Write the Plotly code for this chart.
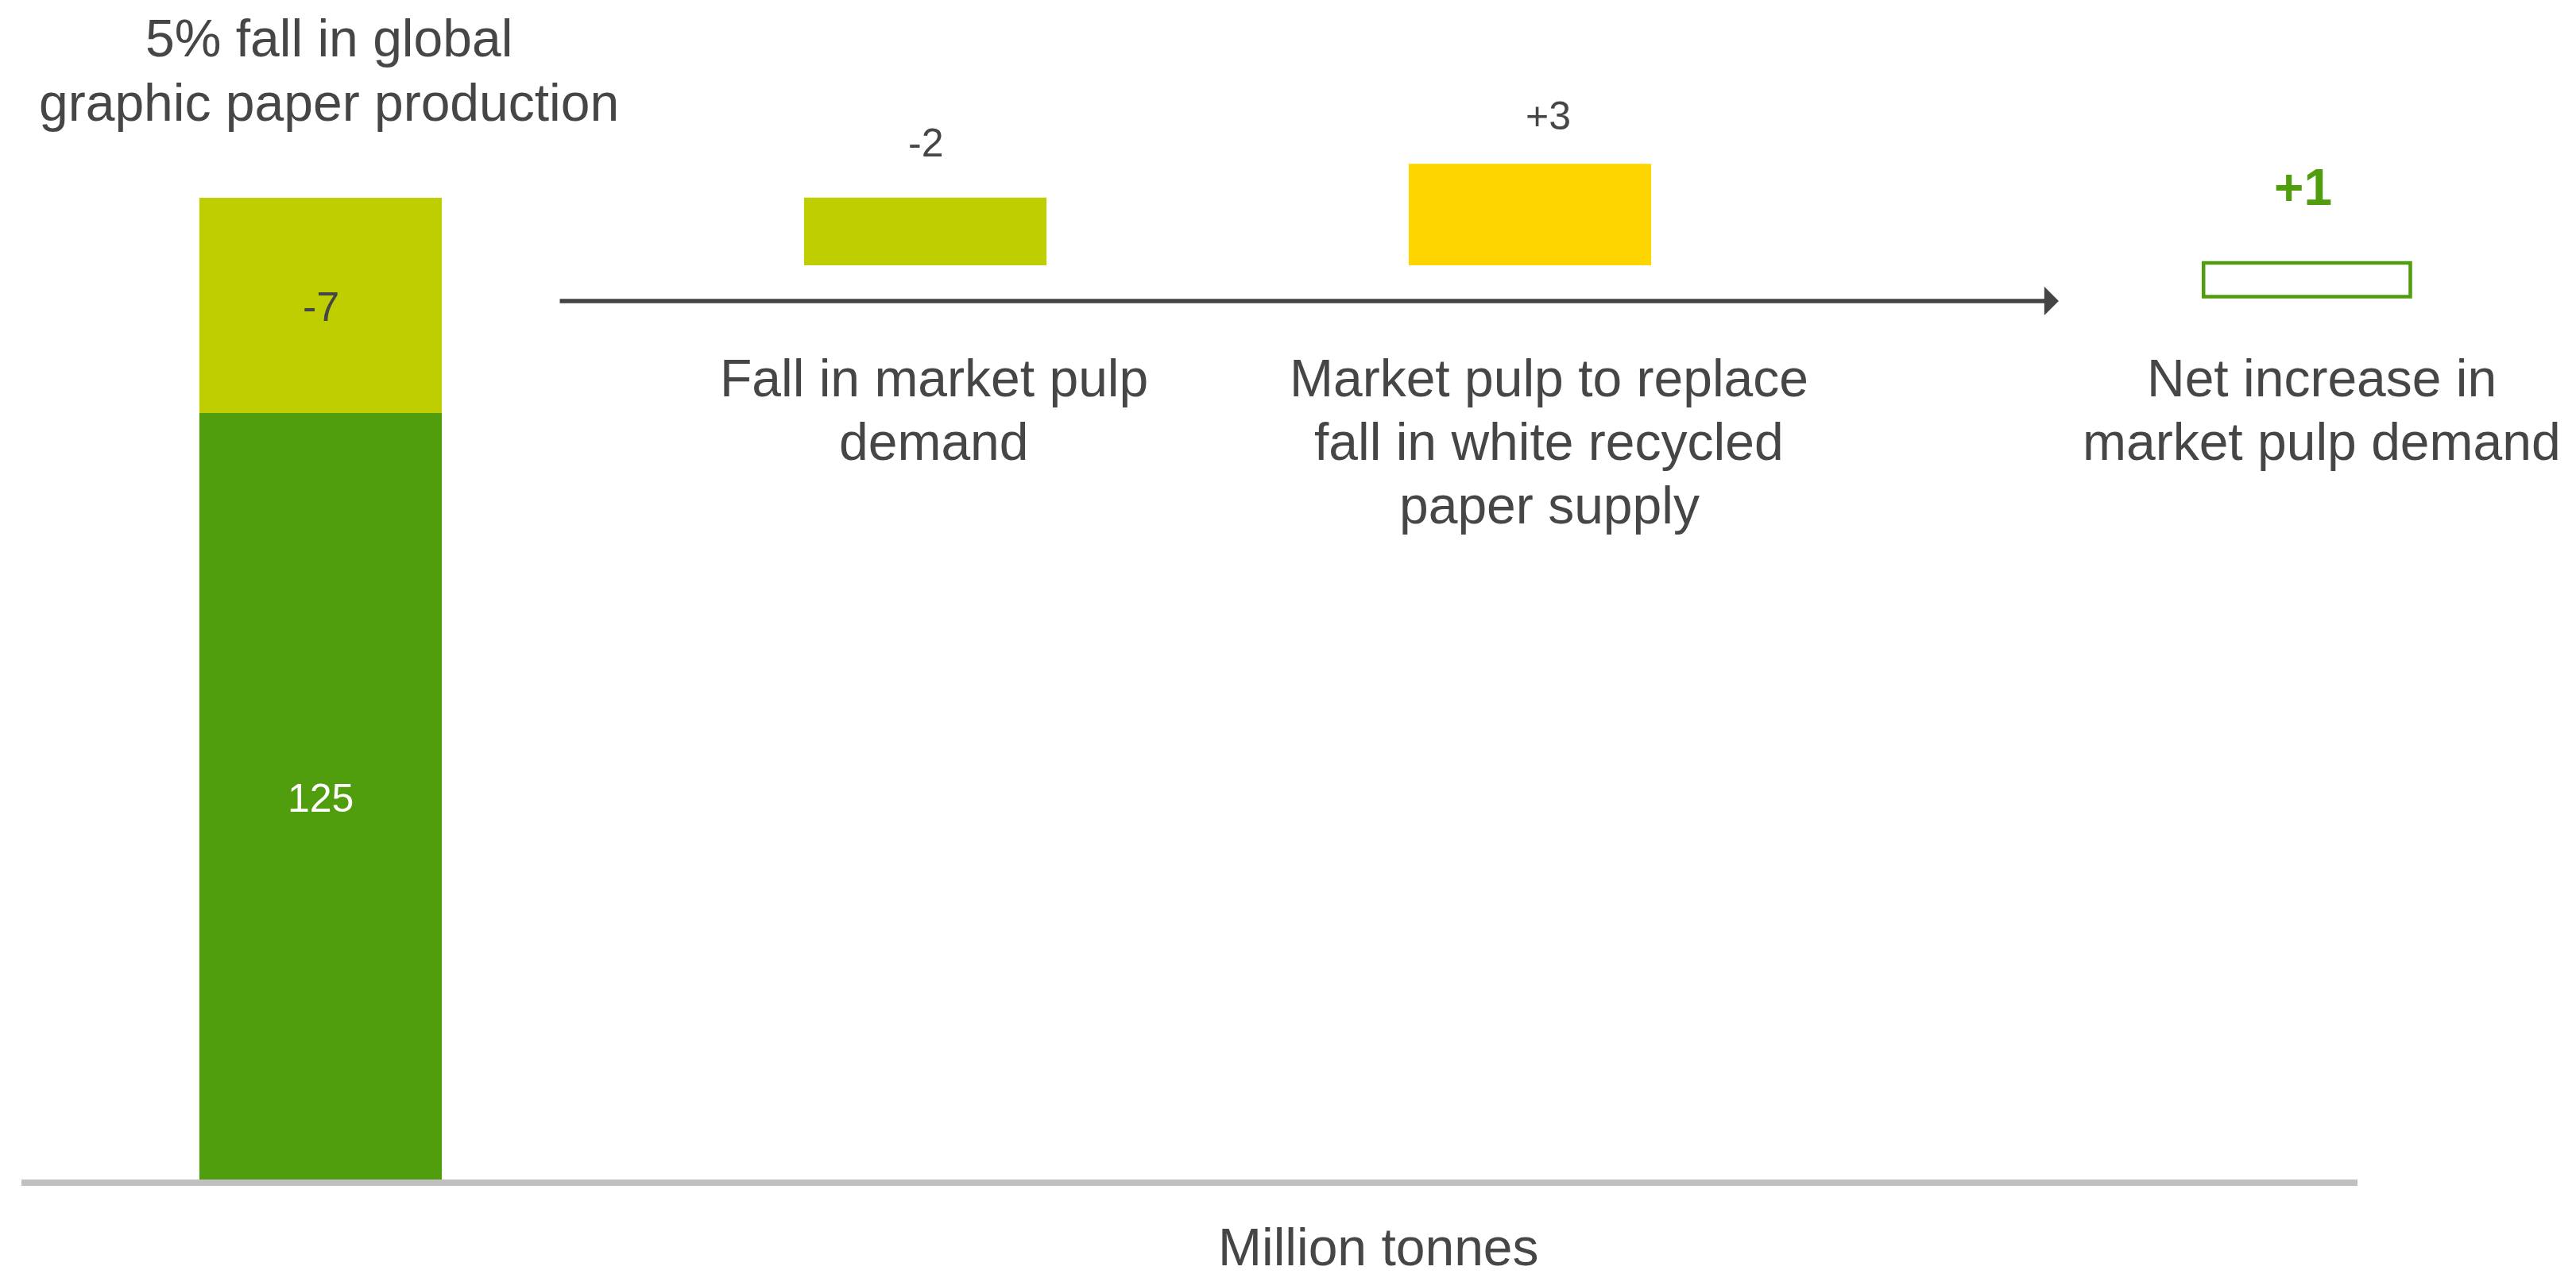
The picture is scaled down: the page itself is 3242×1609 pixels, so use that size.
import plotly.graph_objects as go

# ---------------- data ----------------
category_lines = [
    ["5% fall in global", "graphic paper production"],
    ["Fall in market pulp", "demand"],
    ["Market pulp to replace", "fall in white recycled", "paper supply"],
    ["Net increase in", "market pulp demand"],
]
production_remaining = 125          # million tonnes
production_fall = -7                # million tonnes
pulp_changes = [-2, 3]              # fall in market pulp demand, replacement of recycled paper
net_change = 1                      # net increase in market pulp demand
unit_label = "Million tonnes"

# ---------------- styling / layout constants ----------------
W, H = 3242, 1609
ML, MR, MT, MB = 27, 0, 0, 124
PW, PH = W - ML - MR, H - MT - MB

DARK_GREEN = "#509E0E"
LIME = "#BFCE00"
YELLOW = "#FFD500"
TEXT = "#464646"
AXIS = "#C0C0C0"
FAMILY = "Liberation Sans, Arial, Helvetica, sans-serif"

col_x = [0, 1, 2, 3.285]   # column positions on the x axis
bar_w = 0.401
net_w = 0.342


def px(xp):
    return (xp - ML) / PW


def py(yp):
    return 1 - (yp - MT) / PH


fig = go.Figure()

# column 1: remaining production and the 5% fall (stacked, broken scale)
fig.add_bar(x=[col_x[0]], y=[production_remaining], width=bar_w,
            marker=dict(color=DARK_GREEN, line=dict(width=0)), yaxis="y")
fig.add_bar(x=[col_x[0]], y=[abs(production_fall)], base=0, width=bar_w,
            marker=dict(color=LIME, line=dict(width=0)), yaxis="y2")

# columns 2-3: changes in market pulp demand
fig.add_bar(x=[col_x[1]], y=[abs(pulp_changes[0])], base=0, width=bar_w,
            marker=dict(color=LIME, line=dict(width=0)), yaxis="y3")
fig.add_bar(x=[col_x[2]], y=[abs(pulp_changes[1])], base=0, width=bar_w,
            marker=dict(color=YELLOW, line=dict(width=0)), yaxis="y3")

# column 4: net change (outlined)
fig.add_bar(x=[col_x[3]], y=[net_change], base=-0.93, width=net_w,
            marker=dict(color="white", line=dict(color=DARK_GREEN, width=4.5)),
            yaxis="y3")


def add_text(text, cx, baseline, size, color=TEXT, bold=False):
    cy = baseline - 0.3465 * size
    fig.add_annotation(text=f"<b>{text}</b>" if bold else text,
                       x=px(cx), y=py(cy), xref="paper", yref="paper",
                       xanchor="center", yanchor="middle", showarrow=False,
                       font=dict(size=size, color=color, family=FAMILY))


def fmt(v):
    return f"{v:+d}" if v > 0 else str(v)


# value labels
add_text(fmt(production_fall), 403.5, 404, 52)
add_text(str(production_remaining), 403.5, 1022, 50, color="white")
add_text(fmt(pulp_changes[0]), 1164.5, 197, 50)
add_text(fmt(pulp_changes[1]), 1948.5, 163, 50)
add_text(fmt(net_change), 2898, 258, 64, color=DARK_GREEN, bold=True)

# category labels
for i, line in enumerate(category_lines[0]):
    add_text(line, 413.5, 71 + 81 * i, 66)
label_cx = [None, 1175.5, 1950, 2922]
for c in (1, 2, 3):
    for i, line in enumerate(category_lines[c]):
        add_text(line, label_cx[c], 499 + 80 * i, 66)

# unit label
add_text(unit_label, 1735, 1593, 66)

# timeline arrow
fig.add_annotation(x=2.8745, y=-1.056, ax=0.3936, ay=-1.056,
                   xref="x", yref="y3", axref="x", ayref="y3",
                   text="", showarrow=True, arrowhead=1, arrowsize=1.1,
                   arrowwidth=5.5, arrowcolor="#444444", standoff=0)

# grey baseline under the columns
fig.add_shape(type="line", xref="paper", yref="paper",
              x0=px(27), x1=px(2967), y0=py(1489), y1=py(1489),
              line=dict(color=AXIS, width=8))

fig.update_layout(
    width=W, height=H,
    margin=dict(l=ML, r=MR, t=MT, b=MB, pad=0),
    paper_bgcolor="white", plot_bgcolor="white",
    showlegend=False, barmode="overlay",
    font=dict(family=FAMILY, color=TEXT),
    xaxis=dict(range=[-0.49474, 3.7300], visible=False, fixedrange=True),
    yaxis=dict(range=[0, 192.36], visible=False, fixedrange=True),
    yaxis2=dict(range=[-24.926, 13.432], overlaying="y", visible=False,
                fixedrange=True),
    yaxis3=dict(range=[-27.019, 7.840], overlaying="y", visible=False,
                fixedrange=True),
)

fig.write_html("out.html", config={"displayModeBar": False})
